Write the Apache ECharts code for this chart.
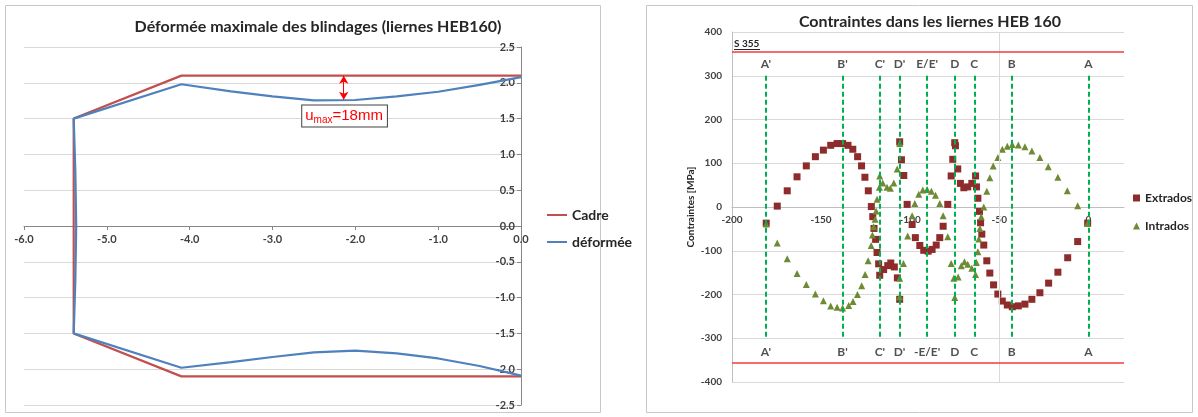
<!DOCTYPE html>
<html><head><meta charset="utf-8">
<script src="https://cdn.jsdelivr.net/npm/echarts@6/dist/echarts.min.js"></script>
<style>html,body{margin:0;padding:0;background:#fff}#c{width:1198px;height:417px}</style>
</head><body><div id="c"></div>
<script>
// ---- Left chart data ----
const cadreX = [0, -4.1, -5.4, -5.4, -4.1, 0];
const cadreY = [2.1, 2.1, 1.5, -1.5, -2.1, -2.1];
const defX = [0, -0.5, -1, -1.5, -2, -2.5, -3, -3.5, -4.1, -5.4, -5.38, -5.37, -5.38, -5.4, -4.1, -3.5, -3, -2.5, -2, -1.5, -1, -0.5, 0];
const defY = [2.08, 1.97, 1.875, 1.81, 1.76, 1.755, 1.81, 1.88, 1.98, 1.5, 0.75, 0, -0.75, -1.5, -1.98, -1.90, -1.83, -1.765, -1.74, -1.78, -1.85, -1.955, -2.09];
const umaxX = -2.14;

// ---- Right chart data ----
const exX = [-180.8,-174.6,-169.0,-163.5,-158.3,-153.2,-148.7,-144.6,-141.0,-137.9,-134.9,-132.2,-129.5,-127.3,-125.4,-123.5,-121.8,-121.0,-120.3,-119.4,-118.6,-117.7,-117.1,-114.9,-112.6,-110.9,-108.9,-107.2,-105.9,-105.9,-104.9,-103.6,-101.7,-98.9,-97.1,-94.6,-92.4,-89.9,-87.7,-85.4,-83.4,-81.5,-78.9,-77.0,-76.1,-75.0,-74.6,-73.3,-71.8,-69.9,-67.7,-65.4,-63.3,-62.8,-62.0,-61.1,-60.5,-59.8,-58.7,-57.0,-55.3,-53.2,-50.8,-48.3,-45.5,-42.7,-39.3,-35.6,-31.7,-27.2,-22.3,-17.1,-11.6,-6.0,-0.4];
const exY = [-37,2,37,69,94,115,130,141,145,145,141,132,115,94,68,37,1,-22,-49,-74,-104,-130,-156,-143,-134,-128,-137,-162,-211,149,108,72,6,-40,-70,-88,-99,-101,-97,-87,-70,-44,6,71,109,147,140,87,54,44,46,54,71,46,20,-10,-36,-62,-87,-123,-151,-178,-199,-215,-224,-228,-226,-222,-211,-196,-174,-149,-116,-79,-37];
const inX = [-180.8,-174.6,-169.0,-163.5,-158.3,-153.2,-148.7,-144.6,-141.0,-137.9,-134.5,-132.1,-129.6,-127.2,-125.3,-123.6,-121.9,-121.2,-120.5,-119.7,-119.1,-118.6,-117.3,-117.1,-115.4,-113.0,-111.1,-109.2,-107.3,-105.9,-105.9,-105.9,-103.8,-101.4,-98.9,-97.4,-95.2,-92.9,-90.5,-88.1,-85.8,-83.4,-81.5,-78.9,-77.0,-75.5,-75.0,-73.1,-71.3,-69.5,-67.7,-65.4,-63.3,-62.8,-62.0,-61.5,-60.9,-60.1,-58.7,-57.0,-55.3,-53.4,-50.8,-48.3,-45.5,-42.7,-39.3,-35.6,-31.7,-27.2,-22.5,-17.1,-11.8,-6.0,-0.4];
const inY = [-39,-82,-118,-152,-177,-199,-214,-226,-229,-231,-225,-216,-200,-180,-154,-123,-88,-64,-45,-28,-9,18,45,71,55,45,43,55,87,145,-163,-205,-129,-66,-20,8,29,39,40,36,27,8,-20,-68,-129,-163,-207,-160,-134,-125,-131,-140,-154,-127,-102,-73,-49,-22,0,36,67,94,113,132,139,143,142,138,128,113,92,68,37,3,-37];
const refPos = [-181, -138, -117, -106, -90.5, -75, -64, -43, 0];
const refTop = ["A'", "B'", "C'", "D'", "E/E'", "D", "C", "B", "A"];
const refBottom = ["A'", "B'", "C'", "D'", "-E/E'", "D", "C", "B", "A"];
const limitValue = 355;
const limitLabel = 'S 355';

const pairs = (xs, ys) => xs.map((x, i) => [x, ys[i]]);
const FONT = 'Lato';
const axisLbl = {color: '#404040', fontFamily: FONT, fontWeight: 'bold', fontSize: 11};

const chart = echarts.init(document.getElementById('c'), null, {renderer: 'canvas'});
chart.setOption({
  animation: false,
  backgroundColor: '#fff',
  title: [
    {text: 'Déformée maximale des blindages (liernes HEB160)', left: 313, top: 14, textAlign: 'center',
     textStyle: {fontFamily: FONT, fontWeight: 'bold', fontSize: 16, color: '#262626'}},
    {text: 'Contraintes dans les liernes HEB 160', left: 925, top: 9, textAlign: 'center',
     textStyle: {fontFamily: FONT, fontWeight: 'bold', fontSize: 16, color: '#262626'}}
  ],
  legend: [
    {data: [{name: 'Cadre', icon: 'rect'}, {name: 'déformée', icon: 'rect'}], orient: 'vertical', left: 542, top: 202, itemGap: 11, itemWidth: 20, itemHeight: 2,
     textStyle: {fontFamily: FONT, fontWeight: 'bold', fontSize: 14, color: '#262626', lineHeight: 16}},
    {data: [{name: 'Extrados', icon: 'rect'}, {name: 'Intrados', icon: 'triangle'}], orient: 'vertical', left: 1128, top: 187, itemGap: 16, itemWidth: 7, itemHeight: 7,
     textStyle: {fontFamily: FONT, fontWeight: 'bold', fontSize: 12, color: '#262626'}}
  ],
  grid: [
    {left: 24, top: 47, width: 497, height: 358, outerBoundsMode: 'none'},
    {left: 732, top: 32, width: 392, height: 350, outerBoundsMode: 'none'}
  ],
  xAxis: [
    {type: 'value', gridIndex: 0, min: -6, max: 0, interval: 1,
     axisLine: {onZero: false, lineStyle: {color: '#868686'}}, axisTick: {show: true, length: 4, lineStyle: {color: '#868686'}},
     splitLine: {show: false}, axisLabel: Object.assign({margin: 8, formatter: v => v.toFixed(1)}, axisLbl)},
    {type: 'value', gridIndex: 1, min: -200, max: 20, interval: 50,
     axisLine: {onZero: false, lineStyle: {color: '#bfbfbf'}}, axisTick: {show: false},
     splitLine: {show: false}, axisLabel: Object.assign({margin: 8, showMaxLabel: false, formatter: v => (v === 20 ? '' : String(v))}, axisLbl, {fontSize: 10})}
  ],
  yAxis: [
    {type: 'value', gridIndex: 0, min: -2.5, max: 2.5, interval: 0.5, position: 'right',
     axisLine: {show: true, onZero: false, lineStyle: {color: '#868686'}}, axisTick: {show: true, inside: true, length: 4, lineStyle: {color: '#868686'}},
     splitLine: {show: true, lineStyle: {color: '#d9d9d9', width: 1}},
     axisLabel: Object.assign({inside: true, margin: 6, formatter: v => v.toFixed(1)}, axisLbl)},
    {type: 'value', gridIndex: 1, min: -400, max: 400, interval: 100, position: 'left',
     name: 'Contraintes [MPa]', nameLocation: 'middle', nameGap: 36, nameRotate: 90,
     nameTextStyle: {fontFamily: FONT, fontWeight: 'bold', fontSize: 10, color: '#262626'},
     axisLine: {show: true, onZero: false, lineStyle: {color: '#bfbfbf'}}, axisTick: {show: false},
     splitLine: {show: true, lineStyle: {color: '#d9d9d9', width: 1}},
     axisLabel: Object.assign({margin: 10}, axisLbl, {fontSize: 10})}
  ],
  series: [
    {name: 'Cadre', type: 'line', xAxisIndex: 0, yAxisIndex: 0, data: pairs(cadreX, cadreY),
     symbol: 'none', lineStyle: {color: '#c0504d', width: 2.2}, itemStyle: {color: '#c0504d'},
     markLine: {silent: true, symbol: ['arrow', 'arrow'], symbolSize: [7, 8],
       lineStyle: {color: '#ff0000', width: 1, type: 'solid'}, label: {show: false},
       data: [[{coord: [umaxX, cadreY[0]]}, {coord: [umaxX, 1.765]}]]},
     markPoint: {silent: true, symbol: 'circle', symbolSize: 1, itemStyle: {color: 'rgba(0,0,0,0)'},
       label: {show: true, position: 'inside', formatter: '{u|u}{s|max}{u|=18mm}', backgroundColor: '#fff',
         borderColor: '#404040', borderWidth: 1, padding: [1, 4, 1, 3],
         rich: {u: {color: '#ff0000', fontSize: 15, fontFamily: 'Liberation Sans'},
                s: {color: '#ff0000', fontSize: 10, fontFamily: 'Liberation Sans', padding: [9, 0, 0, 0]}}},
       data: [{coord: [umaxX + 0.01, 1.535]}]}},
    {name: 'déformée', type: 'line', xAxisIndex: 0, yAxisIndex: 0, data: pairs(defX, defY),
     symbol: 'none', lineStyle: {color: '#4f81bd', width: 2.2}, itemStyle: {color: '#4f81bd'}},
    {name: 'Extrados', type: 'scatter', xAxisIndex: 1, yAxisIndex: 1, data: pairs(exX, exY),
     symbol: 'rect', symbolSize: 7, itemStyle: {color: '#8e2b2b', opacity: 1}, z: 3},
    {name: 'Intrados', type: 'scatter', xAxisIndex: 1, yAxisIndex: 1, data: pairs(inX, inY),
     symbol: 'triangle', symbolSize: 7, itemStyle: {color: '#6f8a35', opacity: 1}, z: 4},
    {name: 'refs', type: 'scatter', xAxisIndex: 1, yAxisIndex: 1, symbolSize: 0, z: 2, silent: true,
     data: refPos.map((x, i) => ({value: [x, 327], label: {formatter: refTop[i]}}))
       .concat(refPos.map((x, i) => ({value: [x, -331], label: {formatter: refBottom[i]}}))),
     label: {show: true, position: 'inside', fontFamily: FONT, fontWeight: 'bold', fontSize: 12, color: '#262626'},
     markLine: {silent: true, symbol: 'none', label: {show: false},
       data: [
         {xAxis: -50, lineStyle: {color: '#d9d9d9', width: 1, type: 'solid'}},
         {yAxis: limitValue, lineStyle: {color: '#f03c3c', width: 1.6, type: 'solid'},
          label: {show: true, position: 'insideStartTop', formatter: limitLabel, distance: [2, 3],
            fontFamily: FONT, fontWeight: 'bold', fontSize: 10, color: '#262626'}},
         {yAxis: -limitValue, lineStyle: {color: '#f03c3c', width: 1.6, type: 'solid'}}
       ].concat(refPos.map(x => [{coord: [x, 300]}, {coord: [x, -300]}]).map(p => {
         p[0].lineStyle = {color: '#00b050', width: 2, type: [5, 3]}; return p; }))}}
  ],
  graphic: [
    {type: 'rect', shape: {x: 5.5, y: 5.5, width: 595, height: 407}, style: {fill: 'none', stroke: '#c8c8c8', lineWidth: 1}, z: -1},
    {type: 'rect', shape: {x: 646.5, y: 5.5, width: 546, height: 407}, style: {fill: 'none', stroke: '#c8c8c8', lineWidth: 1}, z: -1},
    {type: 'line', shape: {x1: 734, y1: 49.5, x2: 760, y2: 49.5}, style: {stroke: '#262626', lineWidth: 1}}
  ]
});

// place each x axis on the y = 0 line, using the library's own scale
function zeroOffset(yIdx) {
  const zero = chart.convertToPixel({yAxisIndex: yIdx}, 0);
  const bottom = chart.convertToPixel({yAxisIndex: yIdx}, chart.getModel().getComponent('yAxis', yIdx).axis.scale.getExtent()[0]);
  return zero - bottom;
}
chart.setOption({xAxis: [{offset: zeroOffset(0)}, {offset: zeroOffset(1)}]});
</script></body></html>
